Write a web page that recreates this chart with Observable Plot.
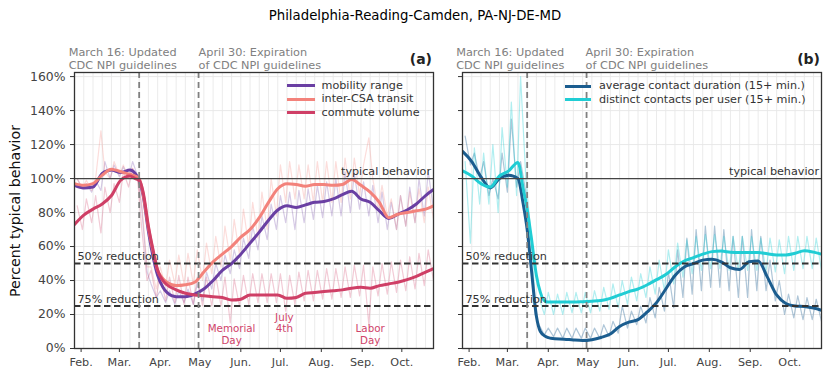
<!DOCTYPE html>
<html><head><meta charset="utf-8">
<script src="https://cdn.jsdelivr.net/npm/d3@7"></script>
<script src="https://cdn.jsdelivr.net/npm/@observablehq/plot@0.6"></script>
<style>
html,body{margin:0;padding:0;background:#fff;}
body{width:830px;height:378px;position:relative;overflow:hidden;font-family:"DejaVu Sans",sans-serif;}
.abs{position:absolute;}
#title{left:0;top:7px;width:830px;text-align:center;font-size:13.3px;color:#000;line-height:18px;}
#ylab{left:15px;top:211px;transform:translate(-50%,-50%) rotate(-90deg);font-size:14.2px;white-space:nowrap;color:#111;}
.lrow{position:absolute;font-size:11.2px;color:#333;white-space:nowrap;line-height:14px;height:14px;}
.sw{position:absolute;height:3px;}
</style></head><body>
<div id="title" class="abs">Philadelphia-Reading-Camden, PA-NJ-DE-MD</div>
<div id="ylab" class="abs">Percent typical behavior</div>
<div id="pa" class="abs" style="left:0;top:35px"></div>
<div id="pb" class="abs" style="left:440px;top:35px"></div>
<div id="legends"></div>
<script>
// ---------- data ----------
const smoothDates = ["2020-01-27","2020-02-03","2020-02-10","2020-02-17","2020-02-24","2020-03-02","2020-03-09","2020-03-13","2020-03-16","2020-03-19","2020-03-23","2020-03-26","2020-03-30","2020-04-03","2020-04-06","2020-04-13","2020-04-20","2020-04-27","2020-05-04","2020-05-11","2020-05-18","2020-05-25","2020-06-01","2020-06-08","2020-06-15","2020-06-22","2020-06-29","2020-07-06","2020-07-13","2020-07-20","2020-07-27","2020-08-03","2020-08-10","2020-08-17","2020-08-24","2020-08-31","2020-09-07","2020-09-14","2020-09-21","2020-09-28","2020-10-05","2020-10-12","2020-10-19","2020-10-25"];
const mobilityRange = [96,94.5,95,103,105,103.5,105,103,99,90,69,56,43,36,33,30.5,30.5,32,35,40,46,50,55.5,62,68.5,75.5,81.5,84,83,84.5,86,86.5,88,90.5,92.5,88,86,81,76.5,79,81.5,85,90,93.5];
const interCsaTransit = [97,96,97,102,105.5,104,102.5,101.5,100,91,71,59,46,41,39,37,37.5,39,45,51,55.5,60,65.5,70,77,86,94,97,96.5,95.5,96.5,96.5,96,96.5,99.5,96,92,86,77,79,80,81,82,84];
const commuteVolume = [73,78.5,82,85,90,99,101.5,100,99,92,72,60,46,40,37.5,34.5,32.5,31.5,31,30.5,30,28.5,29,31.5,31.5,31.5,31.5,29.5,30,32.5,33,33.5,34,34.5,35.5,36,35.5,37,38,39,40.5,42.5,45,47];
const contactDuration = [116,110,101,94.5,100,102,100,85,70,48,19,10,7,6,5.7,5.5,5,4.7,5.2,6.5,8.5,13,15.5,17,21.5,27,35,43,48,50,52,52.5,51,47.5,46.5,51,51.5,42,31.5,26.5,25,24.7,23.8,22.5];
const distinctContacts = [104.5,101.5,97,95,101.5,104.5,109.5,94,82,66,43,33,27.5,27.3,27.3,27.3,27.3,27.5,27.8,28.2,29.5,31.5,33.5,35,37.5,40.5,43.5,48,51.5,53.5,55.5,57,57.3,56.7,56.5,56.5,56.5,55.7,55,55,56,57.5,56.7,55.5];

// raw daily series, read as one midweek and one weekend value per week
const rawWeeks = ["2020-01-27","2020-02-03","2020-02-10","2020-02-17","2020-02-24","2020-03-02","2020-03-09","2020-03-16","2020-03-23","2020-03-30","2020-04-06","2020-04-13","2020-04-20","2020-04-27","2020-05-04","2020-05-11","2020-05-18","2020-05-25","2020-06-01","2020-06-08","2020-06-15","2020-06-22","2020-06-29","2020-07-06","2020-07-13","2020-07-20","2020-07-27","2020-08-03","2020-08-10","2020-08-17","2020-08-24","2020-08-31","2020-09-07","2020-09-14","2020-09-21","2020-09-28","2020-10-05","2020-10-12","2020-10-19"];
const mobilityWeekday = [100,97,99,110,108,107,110,82,38,34,34,34,35,38,45,50,55,58,65,72,78,85,90,92,93,94,96,98,100,104,103,98,96,92,86,90,95,100,104];
const mobilityWeekend = [94,92,93,100,101,100,101,45,30,27,26,27,26,28,35,40,44,47,53,58,64,70,74,70,74,76,77,78,78,80,82,78,74,70,70,72,74,78,82];
const transitWeekday = [100,99,100,104,110,108,106,85,48,48,52,55,56,58,62,66,72,76,82,86,92,100,108,110,108,108,110,110,110,112,112,108,100,96,88,90,92,94,95];
const transitWeekend = [94,93,128,100,102,100,99,48,35,36,38,38,38,40,44,48,52,55,60,65,70,78,86,88,88,86,86,86,86,88,90,124,82,78,70,72,74,74,76];
const commuteWeekday = [84,88,90,95,97,104,106,70,46,44,42,43,42,42,42,43,42,41,43,44,44,44,44,43,45,46,46,47,47,48,49,49,48,50,51,52,54,56,58];
const commuteWeekend = [70,74,68,80,86,95,98,40,30,28,27,26,26,25,25,25,15,25,26,27,27,27,22,26,28,28,29,29,30,30,31,14,31,32,33,34,35,37,40];
const durationWeekday = [125,115,110,100,115,135,110,60,14,12,12,12,12,12,12,14,16,25,22,25,30,36,45,58,65,70,72,72,70,66,66,70,66,52,40,32,31,30,29];
const durationWeekend = [108,100,90,88,92,95,92,20,8,7,6,6,6,6,6,7,9,12,14,15,18,22,24,30,32,34,36,36,34,30,30,34,34,28,20,18,17,17,16];
const contactsWeekday = [110,118,115,120,130,145,160,75,30,33,32,33,33,33,34,36,38,40,42,44,48,52,58,62,64,66,67,67,66,66,66,66,65,65,64,66,66,66,65];
const contactsWeekend = [62,85,85,80,95,90,100,30,20,20,20,21,21,21,22,23,24,26,28,30,32,34,38,42,44,46,47,47,46,46,46,46,45,45,44,46,47,47,46];

const seriesNamesA = ["mobility range","inter-CSA transit","commute volume"];
const seriesNamesB = ["average contact duration (15+ min.)","distinct contacts per user (15+ min.)"];
const yTicks = [0,20,40,60,80,100,120,140,160];
const monthTicks = ["2020-02-01","2020-03-01","2020-04-01","2020-05-01","2020-06-01","2020-07-01","2020-08-01","2020-09-01","2020-10-01"];
const monthLabels = ["Feb.","Mar.","Apr.","May","Jun.","Jul.","Aug.","Sep.","Oct."];
const eventDates = ["2020-03-16","2020-04-30"];
const eventLabels = ["March 16: Updated\nCDC NPI guidelines","April 30: Expiration\nof CDC NPI guidelines"];
const refValues = [100,50,25];
const refLabels = ["typical behavior","50% reduction","75% reduction"];
const holidayDates = ["2020-05-25","2020-07-04","2020-09-07"];
const holidayLabels = ["Memorial\nDay","July\n4th","Labor\nDay"];

// ---------- helpers ----------
const parse = s => new Date(s + "T00:00:00Z");
const xDomain = [parse("2020-01-27"), parse("2020-10-25")];
const gridWeeks = d3.utcMonday.range(parse("2020-01-27"), parse("2020-10-26"));
const monthTickDates = monthTicks.map(parse);
const smoothRows = vals => smoothDates.map((d, i) => ({date: parse(d), v: vals[i]}));
function rawRows(wd, we) {
  const rows = [];
  rawWeeks.forEach((w, i) => {
    const t = parse(w);
    rows.push({date: d3.utcDay.offset(t, 2), v: wd[i]});
    rows.push({date: d3.utcDay.offset(t, 6), v: we[i]});
  });
  return rows;
}

function makePanel({width, marginLeft, marginRight, series, yLabels, tag, marchDx, aprilDx, holidays, rawOpacity}) {
  const marks = [
    Plot.ruleX(gridWeeks, {stroke: "#e9e9e9", strokeWidth: 0.9}),
    Plot.ruleY(yTicks, {stroke: "#e6e6e6", strokeWidth: 0.9})
  ];
  for (const s of series)
    marks.push(Plot.line(rawRows(s.wd, s.we), {x: "date", y: "v", stroke: s.color, strokeOpacity: rawOpacity, strokeWidth: 1.2, clip: true}));
  for (const s of series)
    marks.push(Plot.line(smoothRows(s.smooth), {x: "date", y: "v", stroke: s.color, strokeWidth: 3, curve: "monotone-x", clip: true}));
  const refs = refValues.map((v, i) => ({v, label: refLabels[i]}));
  marks.push(
    Plot.ruleY([refs[0]], {y: "v", stroke: "#444", strokeWidth: 1.3}),
    Plot.ruleY(refs.slice(1), {y: "v", stroke: "#333", strokeWidth: 1.8, strokeDasharray: "6.5,3.5"}),
    Plot.ruleX(eventDates.map(parse), {stroke: "#808080", strokeWidth: 1.8, strokeDasharray: "6,4"}),
    Plot.text([refs[0]], {y: "v", text: "label", frameAnchor: "right", textAnchor: "end", lineAnchor: "bottom", dx: -2.5, dy: -4, fontSize: 11.2, fill: "#333"}),
    Plot.text(refs.slice(1), {y: "v", text: "label", frameAnchor: "left", textAnchor: "start", lineAnchor: "bottom", dx: 3, dy: -3.5, fontSize: 11.2, fill: "#333"}),
    Plot.text([{date: parse(eventDates[0]), label: eventLabels[0]}], {x: "date", text: "label", frameAnchor: "top", lineAnchor: "top", textAnchor: "start", dx: marchDx, dy: -26.5, fontSize: 11.3, lineHeight: 1.19, fill: "#808080"}),
    Plot.text([{date: parse(eventDates[1]), label: eventLabels[1]}], {x: "date", text: "label", frameAnchor: "top", lineAnchor: "top", textAnchor: "start", dx: aprilDx, dy: -26.5, fontSize: 11.3, lineHeight: 1.19, fill: "#808080"}),
    Plot.text([tag], {text: d => d, frameAnchor: "top-right", textAnchor: "end", lineAnchor: "bottom", dx: -1.5, dy: -8.7, fontSize: 14, fontWeight: "bold", fill: "#222"})
  );
  if (holidays) {
    const hol = holidayDates.map((d, i) => ({date: parse(d), label: holidayLabels[i]}));
    marks.push(
      Plot.text([hol[0], hol[2]], {x: "date", text: "label", frameAnchor: "bottom", lineAnchor: "bottom", dy: -4.5, fontSize: 10.3, lineHeight: 1.13, fill: "#d0436a"}),
      Plot.text([hol[1]], {x: "date", text: "label", frameAnchor: "bottom", lineAnchor: "bottom", dy: -16.3, fontSize: 10.3, lineHeight: 1.1, fill: "#d0436a"})
    );
  }
  marks.push(
    Plot.axisY({ticks: yTicks, tickSize: 4, tickPadding: 5, tickFormat: yLabels ? (d => d + "%") : (() => ""), fontSize: 12.4, fill: "#444", stroke: "#333", label: null}),
    Plot.axisX({ticks: monthTickDates, tickSize: 4, tickPadding: 6, tickFormat: d => monthLabels[monthTickDates.findIndex(t => +t === +d)], fontSize: 11.2, fill: "#444", stroke: "#333", label: null}),
    Plot.frame({stroke: "#333", strokeWidth: 1.3})
  );
  return Plot.plot({
    width, height: 343, marginLeft, marginRight, marginTop: 37, marginBottom: 30,
    style: {fontFamily: "DejaVu Sans", fontSize: "12px", background: "transparent", overflow: "visible"},
    x: {type: "utc", domain: xDomain},
    y: {domain: [0, 162.4]},
    marks
  });
}

const colorsA = ["#6a3fa3", "#f3827b", "#cf3f66"];
const colorsB = ["#1b5d8f", "#20cdd4"];

document.getElementById("pa").appendChild(makePanel({
  width: 440, marginLeft: 74, marginRight: 7, yLabels: true, tag: "(a)", marchDx: -70.5, aprilDx: 0, holidays: true, rawOpacity: 0.27,
  series: [
    {smooth: mobilityRange, wd: mobilityWeekday, we: mobilityWeekend, color: colorsA[0]},
    {smooth: interCsaTransit, wd: transitWeekday, we: transitWeekend, color: colorsA[1]},
    {smooth: commuteVolume, wd: commuteWeekday, we: commuteWeekend, color: colorsA[2]}
  ]
}));
document.getElementById("pb").appendChild(makePanel({
  width: 390, marginLeft: 22, marginRight: 9, yLabels: false, tag: "(b)", marchDx: -71, aprilDx: -1, holidays: false, rawOpacity: 0.35,
  series: [
    {smooth: contactDuration, wd: durationWeekday, we: durationWeekend, color: colorsB[0]},
    {smooth: distinctContacts, wd: contactsWeekday, we: contactsWeekend, color: colorsB[1]}
  ]
}));

// legends
const leg = document.getElementById("legends");
function addLegend(names, colors, swLeft, swWidth, textLeft, top0, step) {
  names.forEach((n, i) => {
    const cy = top0 + i * step;
    const sw = document.createElement("div");
    sw.className = "abs sw";
    sw.style.cssText = `left:${swLeft}px;top:${cy - 1.5}px;width:${swWidth}px;background:${colors[i]}`;
    leg.appendChild(sw);
    const t = document.createElement("div");
    t.className = "lrow";
    t.style.cssText = `left:${textLeft}px;top:${cy - 7}px`;
    t.textContent = n;
    leg.appendChild(t);
  });
}
addLegend(seriesNamesA, colorsA, 287, 28, 321.5, 85.5, 13.5);
addLegend(seriesNamesB, colorsB, 565, 26, 599, 86.3, 13.4);
</script>
</body></html>
